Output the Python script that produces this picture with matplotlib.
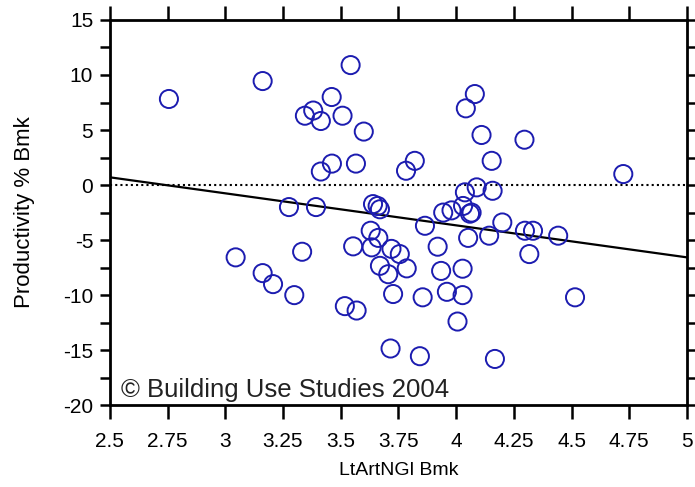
import matplotlib
matplotlib.use("Agg")
import matplotlib.pyplot as plt
import numpy as np

plt.rcParams['font.family'] = ['Liberation Sans', 'DejaVu Sans']
plt.rcParams['axes.unicode_minus'] = False

# benchmark scores
lt_art = [2.756, 3.162, 3.543, 3.461, 3.345, 3.381, 3.414, 3.508, 3.60, 3.462,
          3.414, 3.566, 3.783, 3.821, 4.081, 4.042, 4.11, 4.154, 4.296, 4.724,
          4.089, 4.038, 4.158,
          3.276, 3.393, 3.64, 3.66, 3.67, 3.865, 3.944, 3.98, 4.03, 4.067,
          4.06, 4.20, 4.298, 4.333, 4.442, 4.317, 4.052, 4.143,
          3.045, 3.162, 3.207, 3.299, 3.333, 3.554, 3.518, 3.569,
          3.63, 3.663, 3.634, 3.72, 3.756, 3.67, 3.706, 3.786, 3.727, 3.716,
          3.855, 3.843, 3.92, 3.935, 4.028, 3.96, 4.028, 4.006, 4.168, 4.515]
productivity = [7.82, 9.45, 10.9, 8.0, 6.3, 6.77, 5.82, 6.3, 4.86, 1.95,
                1.23, 1.95, 1.3, 2.2, 8.27, 6.97, 4.55, 2.2, 4.12, 1.0,
                -0.21, -0.66, -0.52,
                -2.0, -2.0, -1.73, -1.9, -2.2, -3.7, -2.5, -2.3, -1.9, -2.5,
                -2.6, -3.4, -4.15, -4.15, -4.6, -6.27, -4.8, -4.6,
                -6.57, -8.0, -9.0, -10.0, -6.06, -5.57, -11.0, -11.4,
                -4.15, -4.8, -5.66, -5.8, -6.27, -7.34, -8.1, -7.57, -9.9, -14.85,
                -10.2, -15.55, -5.6, -7.8, -7.6, -9.7, -10.0, -12.4, -15.8, -10.2]

# regression line as drawn
fit_intercept = 7.98
fit_slope = -2.91

x_ticks = [2.5, 2.75, 3, 3.25, 3.5, 3.75, 4, 4.25, 4.5, 4.75, 5]
x_labels = ["2.5", "2.75", "3", "3.25", "3.5", "3.75", "4", "4.25", "4.5", "4.75", "5"]
y_ticks = [15, 10, 5, 0, -5, -10, -15, -20]

fig = plt.figure(figsize=(6.95, 4.87), dpi=100)
ax = fig.add_axes([0.158, 0.168, 0.8305, 0.791])

ax.axhline(0, color='black', linestyle=(0, (1, 1.5)), linewidth=1.5, zorder=1)
xs = np.array([2.5, 5.0])
ax.plot(xs, fit_intercept + fit_slope * xs, color='black', linewidth=1.6, zorder=2)
ax.scatter(lt_art, productivity, s=170, facecolors='none', edgecolors='#1c1cb0',
           linewidths=1.4, zorder=3)

ax.set_xlim(2.5, 5)
ax.set_ylim(-20, 15)
ax.set_xticks(x_ticks)
ax.set_xticklabels(x_labels)
ax.set_yticks(y_ticks)
ax.set_yticks(np.arange(-17.5, 15, 5), minor=True)

ax.tick_params(axis='x', which='major', direction='out', length=10, width=1.8,
               top=True, labelsize=15, pad=9)
ax.tick_params(axis='y', which='both', direction='out', length=7, width=1.8,
               right=True, labelsize=15, pad=5)
for s in ax.spines.values():
    s.set_linewidth(2)

ax.set_xlabel("LtArtNGl Bmk", fontsize=14, labelpad=8)
ax.set_ylabel("Productivity % Bmk", fontsize=16, labelpad=20)
ax.text(0.02, 0.008, "\u00a9 Building Use Studies 2004", transform=ax.transAxes,
        fontsize=18.5, ha='left', va='bottom', color='#222222')

fig.savefig("out.png", dpi=100)
